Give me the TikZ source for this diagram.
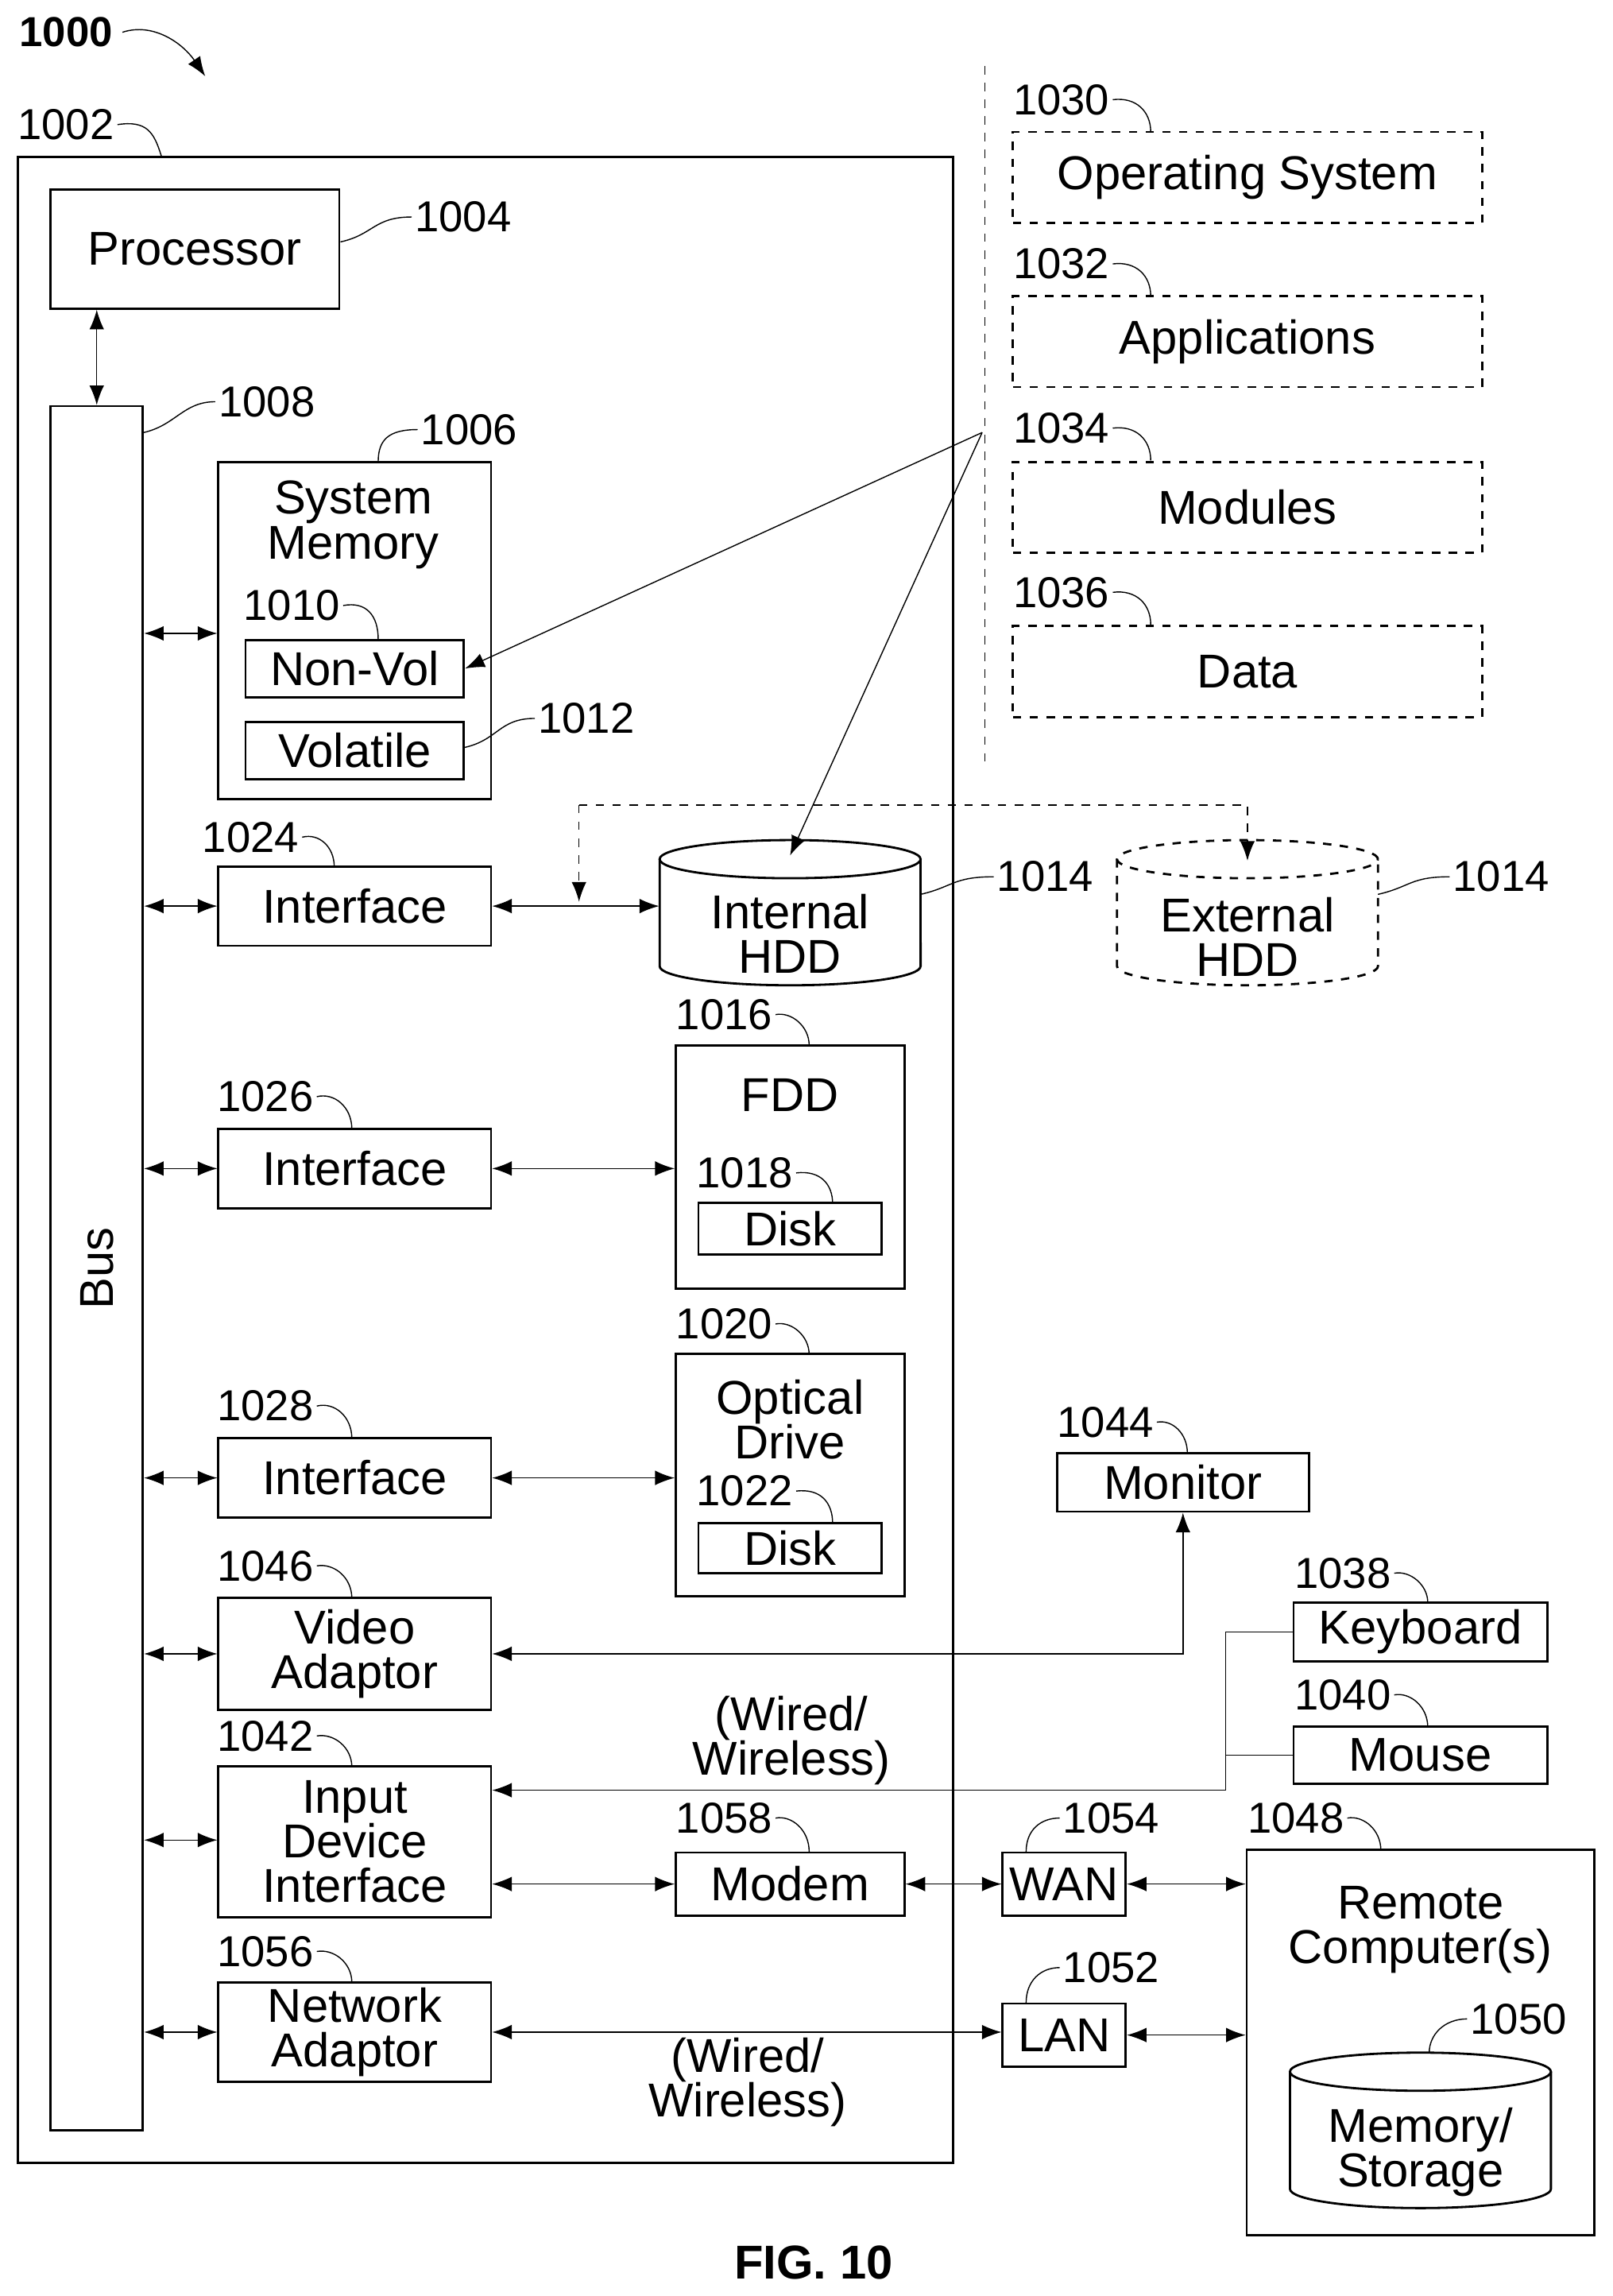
\documentclass[tikz,border=0pt]{standalone}
\usepackage{fontspec}
\setmainfont{Liberation Sans}
\usetikzlibrary{positioning, arrows.meta}
\tikzset{
    box/.style n args={2}{rectangle, draw=black, thick, fill=white, align=center,
        minimum width=#1*0.01845cm, minimum height=#2*0.01845cm, inner sep=0pt,
        font=\fontsize{17}{18}\selectfont},
    opt/.style n args={2}{box={#1}{#2}, dashed},
    slot/.style n args={2}{rectangle, minimum width=#1*0.01845cm, minimum height=#2*0.01845cm, inner sep=0pt},
    txt/.style={font=\fontsize{17}{18}\selectfont, align=center},
    num/.style={font=\fontsize{15.5}{16}\selectfont, inner sep=1pt},
    lead/.style={thin},
    both/.style={{Latex[length=7pt]}-{Latex[length=7pt]}, thin},
    line/.style={-{Latex[length=7pt]}, thin}
}
% disk drum outline: centre x, top y, bottom y, options
\newcommand\drumdraw[4]{%
    \draw[thick,#4] (#1-89,#2+13) -- (#1-89,#3-13)
        arc[start angle=180, end angle=360, x radius=1.642cm, y radius=0.24cm] -- (#1+89,#2+13);
    \draw[thick,#4] (#1,#2+13) ellipse[x radius=1.642cm, y radius=0.24cm];
}
\begin{document}
\begin{tikzpicture}[x=0.01845cm, y=-0.01845cm]
    \useasboundingbox (0,0) rectangle (1100,1566);

    % Title and frame
    \node[font=\bfseries\fontsize{15}{16}\selectfont] (n1000) at (45,22) {1000};
    \coordinate (t1000) at (140,52);
    \draw[line] (n1000.east) .. controls (105,15) and (125,30) .. (t1000);
    \node[box={638}{1368}] (sys) at (331,791) {};
    \node[num] (n1002) at (45,85) {1002};
    \draw[lead] (n1002.east) .. controls (100,82) and (105,90) .. (sys.north west -| 110,107);

    % Processor and bus
    \node[box={197}{81}] (proc) at (133,170) {Processor};
    \node[num] (n1004) at (316,148) {1004};
    \draw[lead] (proc.east |- 0,165) .. controls (255,160) and (255,148) .. (n1004.west);
    \node[box={63}{1176}] (bus) at (66,865) {};
    \node[rotate=90, txt] (busl) at (bus.center) {Bus};
    \node[num] (n1008) at (182,274) {1008};
    \draw[lead] (98,295) .. controls (120,290) and (125,274) .. (n1008.west);
    \draw[both] (proc.south -| bus.north) -- (bus.north);

    % System memory
    \node[box={186}{230}] (mem) at (242,430) {};
    \node[txt] (meml) at (241,358) {System\\[-2pt]Memory};
    \node[num] (n1006) at (320,293) {1006};
    \draw[lead] (258,315) .. controls (258,300) and (265,293) .. (n1006.west);
    \node[num] (n1010) at (199,413) {1010};
    \node[box={149}{39}] (nonvol) at (242,456) {Non-Vol};
    \draw[lead] (n1010.east) .. controls (250,410) and (258,420) .. (258,436);
    \node[box={149}{39}] (vol) at (242,512) {Volatile};
    \node[num] (n1012) at (400,490) {1012};
    \draw[lead] (316,510) .. controls (340,505) and (340,490) .. (n1012.west);
    \draw[both] (bus.east |- 0,432) -- (mem.west |- 0,432);

    % Hard disks
    \node[box={186}{54}] (if1) at (242,618) {Interface};
    \node[num] (n1024) at (171,571) {1024};
    \draw[lead] (n1024.east) .. controls (218,568) and (228,578) .. (228,591);
    \node[slot={178}{99}] (hdd) at (539,622.5) {};
    \drumdraw{539}{573}{672}{}
    \node[txt] (hddl) at (539,637) {Internal\\[-2pt]HDD};
    \node[num] (n1014a) at (713,598) {1014};
    \draw[lead] (628,610) .. controls (650,605) and (650,598) .. (n1014a.west);
    \node[slot={178}{99}] (ext) at (851,622.5) {};
    \drumdraw{851}{573}{672}{dashed}
    \node[txt] (extl) at (851,639) {External\\[-2pt]HDD};
    \node[num] (n1014b) at (1024,598) {1014};
    \draw[lead] (940,610) .. controls (962,605) and (962,598) .. (n1014b.west);
    \draw[both] (bus.east |- 0,618) -- (if1.west);
    \draw[both] (if1.east) -- (hdd.west |- 0,618);
    \coordinate (dtap) at (395,549);
    \draw[line, dashed] (dtap) -- (395,615);
    \draw[line, dashed] (dtap) -- (851,549) -- (851,587);

    % Floppy drive
    \node[box={186}{54}] (if2) at (242,797) {Interface};
    \node[num] (n1026) at (181,748) {1026};
    \draw[lead] (n1026.east) .. controls (228,745) and (240,755) .. (240,770);
    \node[box={156}{166}] (fdd) at (539,796) {};
    \node[txt] (fddl) at (539,747) {FDD};
    \node[num] (n1016) at (494,692) {1016};
    \draw[lead] (n1016.east) .. controls (540,690) and (552,700) .. (552,713);
    \node[box={125}{35}] (disk1) at (539,838) {Disk};
    \node[num] (n1018) at (508,800) {1018};
    \draw[lead] (n1018.east) .. controls (560,798) and (568,808) .. (568,821);
    \draw[both] (bus.east |- 0,797) -- (if2.west);
    \draw[both] (if2.east) -- (fdd.west |- 0,797);

    % Optical drive
    \node[box={186}{54}] (if3) at (242,1008) {Interface};
    \node[num] (n1028) at (181,959) {1028};
    \draw[lead] (n1028.east) .. controls (228,956) and (240,966) .. (240,981);
    \node[box={156}{165}] (opt) at (539,1006) {};
    \node[txt] (optl) at (539,968) {Optical\\[-2pt]Drive};
    \node[num] (n1020) at (494,903) {1020};
    \draw[lead] (n1020.east) .. controls (540,901) and (552,911) .. (552,924);
    \node[box={125}{34}] (disk2) at (539,1056) {Disk};
    \node[num] (n1022) at (508,1017) {1022};
    \draw[lead] (n1022.east) .. controls (560,1015) and (568,1025) .. (568,1039);
    \draw[both] (bus.east |- 0,1008) -- (if3.west);
    \draw[both] (if3.east) -- (opt.west |- 0,1008);

    % Video and input
    \node[box={186}{76}] (video) at (242,1128) {Video\\[-2pt]Adaptor};
    \node[num] (n1046) at (181,1068) {1046};
    \draw[lead] (n1046.east) .. controls (228,1066) and (240,1076) .. (240,1090);
    \node[box={172}{40}] (mon) at (807,1011) {Monitor};
    \node[num] (n1044) at (754,970) {1044};
    \draw[lead] (n1044.east) .. controls (800,968) and (810,978) .. (810,991);
    \draw[both] (video.east) -- (807,1128) -- (mon.south);
    \draw[both] (bus.east |- 0,1128) -- (video.west);

    \node[box={186}{103}] (idi) at (242,1256) {Input\\[-2pt]Device\\[-2pt]Interface};
    \node[num] (n1042) at (181,1184) {1042};
    \draw[lead] (n1042.east) .. controls (228,1182) and (240,1192) .. (240,1205);
    \node[box={173}{40}] (kbd) at (969,1113) {Keyboard};
    \node[num] (n1038) at (916,1073) {1038};
    \draw[lead] (n1038.east) .. controls (962,1071) and (974,1081) .. (974,1093);
    \node[box={173}{39}] (mouse) at (969,1197) {Mouse};
    \node[num] (n1040) at (916,1156) {1040};
    \draw[lead] (n1040.east) .. controls (962,1154) and (974,1164) .. (974,1178);
    \coordinate (join) at (836,1221);
    \draw[thin] (kbd.west) -| (join);
    \draw[thin] (mouse.west) -| (join);
    \draw[line] (join) -- (idi.east |- join);
    \node[txt] (wired1) at (540,1187) {(Wired/\\[-2pt]Wireless)};
    \draw[both] (bus.east |- 0,1255) -- (idi.west |- 0,1255);

    % Network
    \node[box={156}{43}] (modem) at (539,1285) {Modem};
    \node[num] (n1058) at (494,1240) {1058};
    \draw[lead] (n1058.east) .. controls (540,1238) and (552,1248) .. (552,1263);
    \node[box={84}{43}] (wan) at (726,1285) {WAN};
    \node[num] (n1054) at (758,1240) {1054};
    \draw[lead] (700,1263) .. controls (700,1248) and (710,1240) .. (n1054.west);
    \node[box={186}{68}] (net) at (242,1386) {Network\\[-2pt]Adaptor};
    \node[num] (n1056) at (181,1331) {1056};
    \draw[lead] (n1056.east) .. controls (228,1329) and (240,1339) .. (240,1352);
    \node[box={84}{43}] (lan) at (726,1388) {LAN};
    \node[num] (n1052) at (758,1342) {1052};
    \draw[lead] (700,1366) .. controls (700,1351) and (710,1342) .. (n1052.west);
    \node[box={237}{263}] (remote) at (969,1393) {};
    \node[txt] (remotel) at (969,1316) {Remote\\[-2pt]Computer(s)};
    \node[num] (n1048) at (884,1240) {1048};
    \draw[lead] (n1048.east) .. controls (930,1238) and (942,1248) .. (942,1262);
    \node[slot={178}{106}] (store) at (969,1453) {};
    \drumdraw{969}{1400}{1506}{}
    \node[txt] (storel) at (969,1468) {Memory/\\[-2pt]Storage};
    \node[num] (n1050) at (1036,1377) {1050};
    \draw[lead] (975,1400) .. controls (975,1388) and (985,1377) .. (n1050.west);
    \node[txt] (wired2) at (510,1420) {(Wired/\\[-2pt]Wireless)};
    \draw[both] (idi.east |- 0,1285) -- (modem.west);
    \draw[both] (modem.east) -- (wan.west);
    \draw[both] (wan.east) -- (remote.west |- wan.east);
    \draw[both] (bus.east |- 0,1386) -- (net.west);
    \draw[both] (net.east) -- (lan.west |- net.east);
    \draw[both] (lan.east) -- (remote.west |- lan.east);

    % Software
    \draw[thin, dashed] (672,45) -- (672,525);
    \node[opt={320}{62}] (os) at (851,121) {Operating System};
    \node[opt={320}{62}] (apps) at (851,233) {Applications};
    \node[opt={320}{62}] (mods) at (851,346) {Modules};
    \node[opt={320}{62}] (data) at (851,458) {Data};
    \foreach \lbl/\yy in {1030/68, 1032/180, 1034/292, 1036/404} {
        \node[num] (n\lbl) at (724,\yy) {\lbl};
        \draw[lead] (n\lbl.east) .. controls (775,\yy-2) and (785,\yy+8) .. (785,\yy+22);
    }
    \coordinate (src) at (670,295);
    \draw[line] (src) -- (nonvol.east);
    \draw[line] (src) -- ([yshift=-0.2cm]hdd.north);

    \node[font=\bfseries\fontsize{17}{18}\selectfont] (fig) at (555,1543) {FIG. 10};
\end{tikzpicture}
\end{document}
